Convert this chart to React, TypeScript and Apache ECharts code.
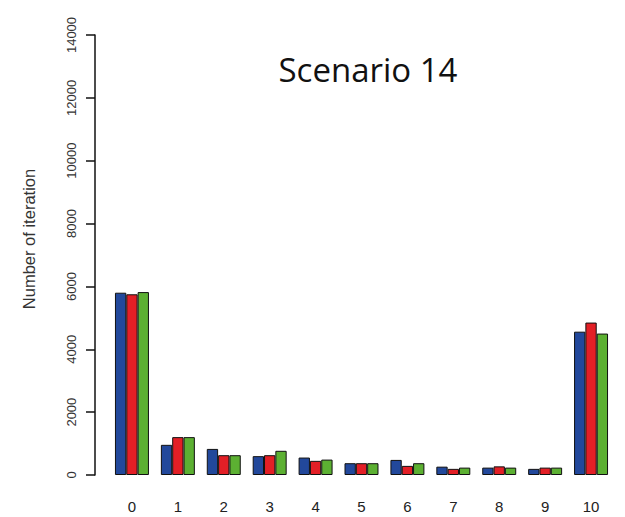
import React, { useEffect, useRef } from "react";
import * as echarts from "echarts";

const categories = ["0", "1", "2", "3", "4", "5", "6", "7", "8", "9", "10"];
const blueValues = [5800, 960, 830, 600, 555, 375, 480, 265, 235, 195, 4560];
const redValues = [5750, 1205, 630, 630, 450, 375, 290, 195, 275, 235, 4850];
const greenValues = [5820, 1205, 630, 770, 490, 375, 375, 235, 235, 235, 4500];
const yTicks = { min: 0, max: 14000, interval: 2000 };
const titleText = "Scenario 14";
const yName = "Number of iteration";

export default function App() {
  const ref = useRef<HTMLDivElement>(null);
  useEffect(() => {
    document.body.style.margin = "0";
    if (!ref.current) return;
    const chart = echarts.init(ref.current, null, { renderer: "svg" });
    const mk = (name: string, data: number[], color: string) => ({
      name,
      type: "bar",
      data,
      barGap: "0%",
      barCategoryGap: "26%",
      itemStyle: { color, borderColor: "#111", borderWidth: 1 },
    });
    chart.setOption({
      animation: false,
      backgroundColor: "#fff",
      graphic: [
        {
          type: "text",
          x: 368,
          y: 53,
          style: {
            text: titleText,
            textAlign: "center",
            textVerticalAlign: "top",
            fontFamily: "Open Sans",
            fontSize: 33,
            fill: "#111",
          },
        },
      ],
      grid: { left: 109, right: 11, top: 35, bottom: 42, containLabel: false },
      xAxis: {
        type: "category",
        data: categories,
        axisLine: { show: false },
        axisTick: { show: false },
        axisLabel: {
          margin: 24,
          fontFamily: "Liberation Sans",
          fontSize: 15,
          color: "#222",
        },
      },
      yAxis: {
        type: "value",
        min: yTicks.min,
        max: yTicks.max,
        interval: yTicks.interval,
        offset: 14,
        name: yName,
        nameLocation: "middle",
        nameGap: 58,
        nameTextStyle: {
          fontFamily: "Liberation Sans",
          fontSize: 16.5,
          color: "#333",
          padding: [0, 0, 0, 32],
        },
        splitLine: { show: false },
        axisLine: { show: true, lineStyle: { color: "#111", width: 1.5 } },
        axisTick: { show: true, length: 9, lineStyle: { color: "#111", width: 1.5 } },
        axisLabel: {
          rotate: 90,
          margin: 17,
          fontFamily: "Liberation Sans",
          fontSize: 13,
          color: "#333",
          formatter: (v: number) => String(v),
        },
      },
      series: [
        mk("A", blueValues, "#22489b"),
        mk("B", redValues, "#e31f26"),
        mk("C", greenValues, "#5cb032"),
      ],
    });
    return () => chart.dispose();
  }, []);
  return <div ref={ref} style={{ width: 625, height: 517 }} />;
}
